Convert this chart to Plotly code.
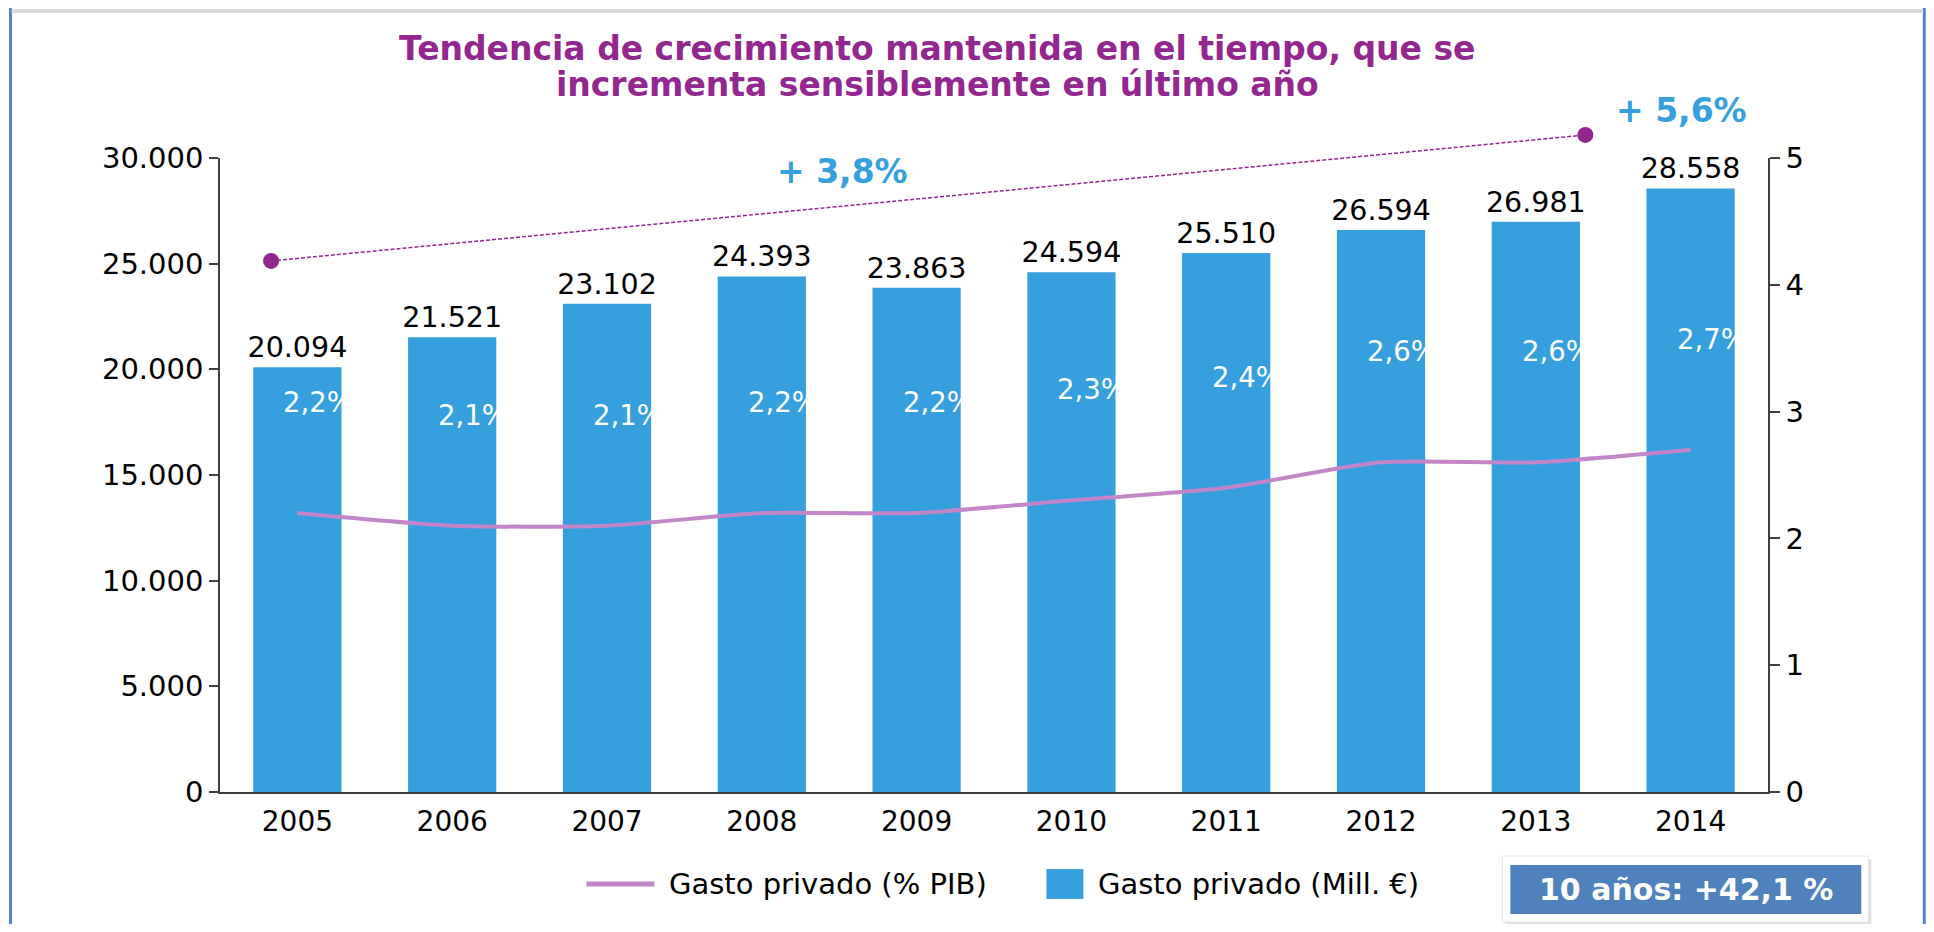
import plotly.graph_objects as go

years = ["2005", "2006", "2007", "2008", "2009", "2010", "2011", "2012", "2013", "2014"]
gasto_mill = [20094, 21521, 23102, 24393, 23863, 24594, 25510, 26594, 26981, 28558]
gasto_pib = [2.2, 2.1, 2.1, 2.2, 2.2, 2.3, 2.4, 2.6, 2.6, 2.7]
trend_x = [-0.17, 8.32]
trend_y = [25130, 31090]
left_ticks = [0, 5000, 10000, 15000, 20000, 25000, 30000]
right_ticks = [0, 1, 2, 3, 4, 5]

# page body has 8px margin -> figure drawn at (8, 8)
OFF = 8
FW, FH = 1918, 916
L, R = 219.5 - OFF, 1767.7 - OFF      # plot area x (figure coords)
TM, B = 158 - OFF, 792 - OFF          # main axes top / bottom
T0 = 100 - OFF                        # top of full subplot area
FONT = "DejaVu Sans"
BAR_C = "#36A0DE"
LINE_C = "#C386C9"
PURPLE = "#93278F"
TXT_BLUE = "#36A0DE"

def fmt(v):
    return f"{v:,}".replace(",", ".")

def px(s):
    return (s - OFF - L) / (R - L)

def py(s):
    return (B - (s - OFF)) / (B - T0)

main_top = (B - TM) / (B - T0)
xs = list(range(len(years)))

fig = go.Figure()
fig.add_trace(go.Bar(
    x=xs, y=gasto_mill, name="Gasto privado (Mill. €)",
    marker=dict(color=BAR_C, line=dict(width=0)), width=0.57,
    text=[fmt(v) for v in gasto_mill], textposition="outside", constraintext="none",
    textfont=dict(family=FONT, size=28.5, color="#000000"),
    cliponaxis=False, xaxis="x", yaxis="y", showlegend=False,
))
fig.add_trace(go.Scatter(
    x=xs, y=gasto_pib, name="Gasto privado (% PIB)", mode="lines",
    line=dict(color=LINE_C, width=4, shape="spline", smoothing=0.6),
    xaxis="x", yaxis="y2", showlegend=False,
))
fig.add_trace(go.Scatter(
    x=trend_x, y=trend_y, mode="lines+markers", showlegend=False,
    line=dict(color=PURPLE, width=1.5, dash="4px,2px"),
    marker=dict(color=PURPLE, size=16),
    cliponaxis=False, xaxis="x2", yaxis="y3",
))

annotations = []
for i, v in enumerate(gasto_pib):
    annotations.append(dict(
        x=i, y=v, xref="x", yref="y2", text=f"{v:.1f}%".replace(".", ","),
        showarrow=False, xanchor="left", yanchor="middle", xshift=-16, yshift=111,
        font=dict(family=FONT, size=27.5, color="#FFFFFF"),
    ))

def txt(s_x, s_y, text, size, color, xanchor="center"):
    annotations.append(dict(
        x=px(s_x), y=py(s_y), xref="paper", yref="paper", showarrow=False,
        text=text, font=dict(family=FONT, size=size, color=color),
        xanchor=xanchor, yanchor="middle",
    ))

txt(937, 49, "<b>Tendencia de crecimiento mantenida en el tiempo, que se</b>", 33, PURPLE)
txt(937, 85, "<b>incrementa sensiblemente en último año</b>", 33, PURPLE)
txt(842, 172, "<b>+ 3,8%</b>", 33, TXT_BLUE)
txt(1681, 110, "<b>+ 5,6%</b>", 33, TXT_BLUE)
txt(1686, 889, "<b>10 años: +42,1 %</b>", 30, "#FFFFFF")
# legend texts
txt(667, 884, "Gasto privado (% PIB)", 29, "#000000", xanchor="left")
txt(1096, 884, "Gasto privado (Mill. €)", 29, "#000000", xanchor="left")

def rect(x0, x1, y0, y1, fill, line=None):
    return dict(type="rect", xref="paper", yref="paper", x0=px(x0), x1=px(x1),
                y0=py(y0), y1=py(y1), fillcolor=fill,
                line=line if line else dict(width=0))

def hline(x0, x1, y, color, w):
    return dict(type="line", xref="paper", yref="paper", x0=px(x0), x1=px(x1),
                y0=py(y), y1=py(y), line=dict(color=color, width=w))

def vline(x, y0, y1, color, w):
    return dict(type="line", xref="paper", yref="paper", x0=px(x), x1=px(x),
                y0=py(y0), y1=py(y1), line=dict(color=color, width=w))

shapes = [
    vline(10, 6, 940, "#4F81C8", 3),
    vline(1924, 6, 940, "#4F81C8", 3),
    hline(9, 1925, 6, "#4F81C8", 3),
    rect(11, 1923, 9, 13, "#D9D9D9"),
    rect(1505, 1871, 859, 925, "rgba(0,0,0,0.12)"),
    rect(1502, 1868, 856, 922, "#FFFFFF", dict(color="#E6E6E6", width=1)),
    rect(1510, 1861, 865, 914, "#4F81BD"),
    # legend symbols
    hline(586, 654, 884, LINE_C, 5),
    rect(1046, 1083, 869, 899, BAR_C),
]

fig.update_layout(
    width=FW, height=FH,
    margin=dict(l=L, r=FW - R, t=T0, b=FH - B),
    paper_bgcolor="#FFFFFF", plot_bgcolor="rgba(0,0,0,0)",
    font=dict(family=FONT, size=26, color="#000000"),
    xaxis=dict(
        domain=[0, 1], anchor="y",
        range=[-0.5, 9.5], tickvals=xs, ticktext=years, showgrid=False, zeroline=False,
        showline=True, linecolor="#404040", linewidth=1.5, ticks="", ticklabelstandoff=4,
        tickfont=dict(family=FONT, size=28, color="#000000"),
    ),
    yaxis=dict(
        domain=[0, main_top], anchor="x",
        range=[0, 30000], tickvals=left_ticks, ticktext=[fmt(v) for v in left_ticks],
        showgrid=False, zeroline=False, showline=True, linecolor="#404040", linewidth=1.5,
        ticks="outside", ticklen=9, tickcolor="#404040", tickwidth=1.5,
        tickfont=dict(family=FONT, size=29, color="#000000"),
    ),
    yaxis2=dict(
        range=[0, 5], tickvals=right_ticks, overlaying="y", side="right", anchor="x",
        showgrid=False, zeroline=False, showline=True, linecolor="#404040", linewidth=1.5,
        ticks="outside", ticklen=10, tickcolor="#404040", tickwidth=1.5,
        tickfont=dict(family=FONT, size=29, color="#000000"),
    ),
    xaxis2=dict(domain=[0, 1], anchor="y3", range=[-0.5, 9.5], visible=False),
    yaxis3=dict(domain=[0, 1], anchor="x2", range=[0, 30000 / main_top], visible=False),
    annotations=annotations,
    shapes=shapes,
    showlegend=False,
)

fig.write_html("out.html")
